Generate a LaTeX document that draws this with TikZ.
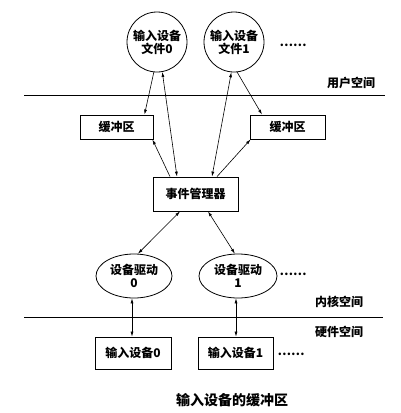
\documentclass[tikz,border=0pt]{standalone}
\usepackage{fontspec}
\setmainfont{Noto Sans CJK SC}
\usetikzlibrary{arrows.meta,shapes.geometric}

\tikzset{
  every node/.style={font=\fontsize{12}{13}\selectfont\bfseries},
  filecircle/.style={circle, draw, thick, minimum size=60pt, inner sep=0pt, align=center},
  bufbox/.style={rectangle, draw, thick, minimum height=24pt, inner sep=0pt},
  drvellipse/.style={ellipse, draw, thick, minimum height=44pt, inner sep=0pt, align=center},
  devbox/.style={rectangle, draw, thick, minimum height=32pt, inner sep=0pt},
  link/.style={-{Latex[length=5pt,width=3pt]}, semithick},
  dlink/.style={{Latex[length=5pt,width=3pt]}-{Latex[length=5pt,width=3pt]}, semithick}
}

\begin{document}
\begin{tikzpicture}[x=1pt, y=-1pt]
			\useasboundingbox (0,0) rectangle (400,413);

			% user space
			\node[filecircle] (file0) at (157,42) {输入设备\\文件0};
			\node[filecircle] (file1) at (234,42) {输入设备\\文件1};
			\node (dots0) at (293,45) {……};
			\node (user) at (351,83) {用户空间};

			\coordinate (l1a) at (24,95);
			\coordinate (l1b) at (385,95);
			\draw[thick] (l1a) -- (l1b);

			\node[bufbox, minimum width=73pt] (buf0) at (116.5,127) {缓冲区};
			\node[bufbox, minimum width=75pt] (buf1) at (287.5,127) {缓冲区};

			\node[bufbox, minimum width=85pt, minimum height=34pt] (mgr) at (195.5,194) {事件管理器};

			% kernel space
			\node[drvellipse, minimum width=76pt] (drv0) at (134,276) {设备驱动\\0};
			\node[drvellipse, minimum width=78pt] (drv1) at (238,276) {设备驱动\\1};
			\node (dots1) at (293,274) {……};
			\node (kernel) at (339,302) {内核空间};

			\coordinate (l2a) at (24,317);
			\coordinate (l2b) at (383,317);
			\draw[thick] (l2a) -- (l2b);

			% hardware space
			\node (hw) at (339,332) {硬件空间};
			\node[devbox, minimum width=76pt] (dev0) at (133,353) {输入设备0};
			\node[devbox, minimum width=75pt] (dev1) at (235.5,353) {输入设备1};
			\node (dots2) at (291,354) {……};

			\node[font=\fontsize{14}{16}\selectfont\bfseries] (caption) at (232,400) {输入设备的缓冲区};

			% connectors
			\draw[link] (file0.-96) -- ([xshift=28pt]buf0.north);
			\draw[dlink] ([xshift=-18.5pt]mgr.north) -- (file0.-80);
			\draw[link] ([xshift=-25.5pt]mgr.north) -- ([xshift=-1pt]buf0.south east);
			\draw[dlink] ([xshift=16.5pt]mgr.north) -- (file1.-95);
			\draw[link] (file1.-84) -- ([xshift=-25.5pt]buf1.north);
			\draw[link] ([xshift=21.5pt]mgr.north) -- ([xshift=1pt]buf1.south west);
			\draw[dlink] ([xshift=-15.5pt]mgr.south) -- (drv0.80);
			\draw[dlink] ([xshift=12.5pt]mgr.south) -- (drv1.98);
			\draw[dlink] ([xshift=-2pt]drv0.south) -- ([xshift=-1pt]dev0.north);
			\draw[dlink] ([xshift=-2pt]drv1.south) -- ([xshift=0.5pt]dev1.north);
\end{tikzpicture}
\end{document}
